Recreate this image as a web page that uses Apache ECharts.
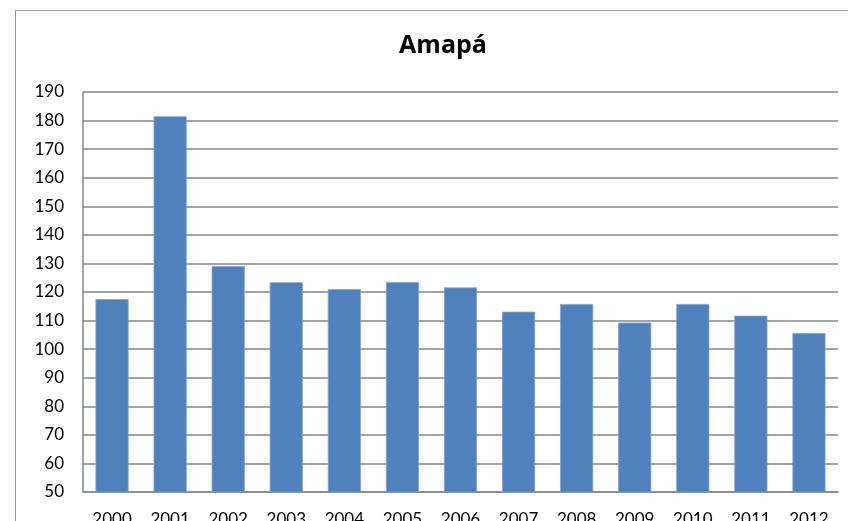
<!DOCTYPE html>
<html>
<head>
<meta charset="utf-8">
<script src="https://cdn.jsdelivr.net/npm/echarts@6/dist/echarts.min.js"></script>
<style>
html,body{margin:0;padding:0;background:#fff;}
#wrap{position:relative;width:848px;height:521px;overflow:hidden;}
#frame{position:absolute;left:15px;top:10px;width:900px;height:600px;border:1.5px solid #969696;box-sizing:border-box;}
#c{position:absolute;left:0;top:0;width:848px;height:521px;}
</style>
</head>
<body>
<div id="wrap"><div id="frame"></div><div id="c"></div></div>
<script>
const categories = ['2000','2001','2002','2003','2004','2005','2006','2007','2008','2009','2010','2011','2012'];
const values = [117.5, 181.5, 129.1, 123.4, 121.0, 123.5, 121.6, 113.1, 115.8, 109.3, 115.8, 111.7, 105.6];
const yMin = 50, yMax = 190, yStep = 10;

const chart = echarts.init(document.getElementById('c'), null, {renderer:'canvas'});
chart.setOption({
  animation:false,
  backgroundColor:'transparent',
  title:{
    text:'Amapá',
    left:438, top:28, textAlign:'center',
    textStyle:{fontFamily:'Open Sans', fontWeight:'bold', fontSize:25, color:'#000'}
  },
  grid:{left:83, right:10, top:92, bottom:29, containLabel:false, outerBoundsMode:'none'},
  xAxis:{
    type:'category', data:categories,
    axisLine:{show:true, lineStyle:{color:'#868686', width:1.5}},
    axisTick:{show:false},
    axisLabel:{fontFamily:'Lato', fontSize:17, color:'#000', margin:19, interval:0}
  },
  yAxis:{
    type:'value', min:yMin, max:yMax, interval:yStep,
    axisLine:{show:true, lineStyle:{color:'#868686', width:1.5}},
    axisTick:{show:false},
    splitLine:{lineStyle:{color:'#868686', width:1.5}},
    axisLabel:{fontFamily:'Lato', fontSize:17, color:'#000', margin:19}
  },
  series:[{
    type:'bar', data:values,
    barCategoryGap:'43%',
    itemStyle:{color:'#4F81BD', borderColor:'#7FA3CF', borderWidth:0.8}
  }]
});
</script>
</body>
</html>
